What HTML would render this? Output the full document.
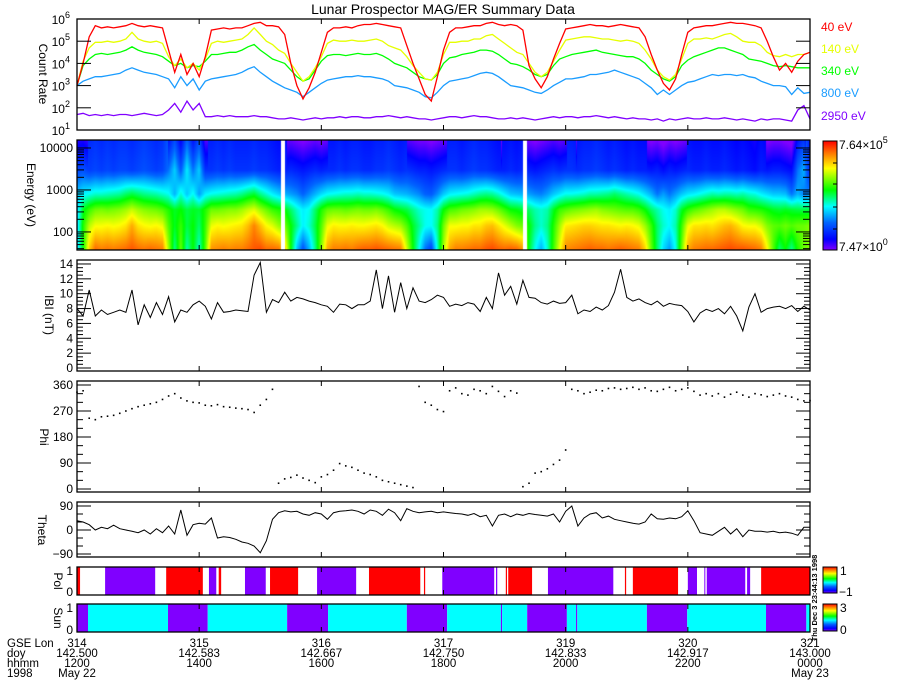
<!DOCTYPE html>
<html><head><meta charset="utf-8"><style>
html,body{margin:0;padding:0;background:#fff;}
#wrap{position:relative;width:900px;height:700px;overflow:hidden;background:#fff;font-family:"Liberation Sans",sans-serif;}
#spec{position:absolute;left:77px;top:140px;}
#chart{position:absolute;left:0;top:0;}
</style></head><body>
<div id="wrap">
<canvas id="spec" width="733" height="110"></canvas>
<svg id="chart" width="900" height="700" xmlns="http://www.w3.org/2000/svg"></svg>
</div>
<script>
// ---- data ----
const tStart = 12.0, tStep = 0.1;
const channelLabels = ["40 eV","140 eV","340 eV","800 eV","2950 eV"];
const channelEnergies = [40,140,340,800,2950];
const red40 = [3.0,4.0,5.2,5.7,5.6,5.65,5.6,5.65,5.7,5.8,
5.7,5.65,5.7,5.65,5.6,4.6,3.6,4.4,3.5,4.0,
3.4,4.3,5.5,5.55,5.6,5.55,5.6,5.6,5.7,5.8,
5.85,5.7,5.7,5.65,5.3,4.0,3.0,2.4,2.9,3.6,
4.5,5.4,5.6,5.6,5.65,5.6,5.7,5.75,5.75,5.8,
5.75,5.7,5.65,5.6,4.8,4.0,3.3,2.6,2.3,3.4,
4.6,5.4,5.6,5.6,5.65,5.7,5.7,5.8,5.85,5.75,
5.7,5.75,5.7,5.5,3.9,3.3,2.9,3.4,4.2,4.9,
5.55,5.6,5.65,5.7,5.75,5.7,5.7,5.65,5.7,5.75,
5.7,5.65,5.6,5.2,4.4,3.7,3.1,2.8,3.3,4.4,
5.4,5.6,5.65,5.7,5.7,5.75,5.8,5.85,5.8,5.8,
5.75,5.7,5.6,5.0,4.3,3.7,4.0,3.6,4.1,4.4,
4.5];
const yel140 = [3.0,4.1,4.7,4.95,4.95,5.0,4.95,5.0,5.1,5.4,
5.1,5.0,4.95,5.0,4.9,4.3,3.9,4.2,3.8,4.0,
3.7,4.2,4.9,5.0,4.95,5.0,5.05,5.1,5.3,5.6,
5.3,5.0,4.85,4.6,4.45,4.0,3.6,3.2,3.4,3.8,
4.3,4.9,5.05,5.0,5.0,5.05,5.0,5.0,5.05,5.1,
5.0,4.8,4.7,4.6,4.3,3.9,3.6,3.3,3.25,3.6,
4.4,4.95,4.95,5.0,5.0,5.1,5.1,5.25,5.3,5.1,
4.9,4.7,4.5,4.4,4.0,3.6,3.4,3.6,4.1,4.6,
5.05,5.1,5.15,5.2,5.2,5.15,5.1,5.1,5.05,5.0,
5.05,5.0,4.9,4.6,4.2,3.7,3.4,3.25,3.5,4.2,
4.9,5.1,5.1,5.15,5.1,5.2,5.3,5.35,5.2,5.0,
4.95,4.95,4.8,4.5,4.35,4.3,4.4,4.3,4.4,4.4,
4.5];
const grn340 = [3.0,3.9,4.2,4.4,4.45,4.4,4.45,4.5,4.6,4.75,
4.6,4.5,4.45,4.4,4.3,4.1,3.9,4.0,3.8,3.9,
3.85,4.1,4.4,4.4,4.45,4.5,4.5,4.6,4.75,4.85,
4.6,4.4,4.2,4.1,4.0,3.7,3.4,3.2,3.3,3.7,
4.1,4.35,4.4,4.4,4.35,4.4,4.45,4.4,4.4,4.45,
4.35,4.2,4.0,3.9,3.8,3.6,3.4,3.3,3.25,3.5,
4.0,4.25,4.3,4.4,4.45,4.5,4.6,4.6,4.55,4.4,
4.2,4.0,3.95,3.85,3.7,3.5,3.4,3.5,3.9,4.2,
4.3,4.4,4.45,4.5,4.55,4.6,4.5,4.45,4.4,4.35,
4.3,4.3,4.2,4.0,3.7,3.5,3.3,3.2,3.4,3.9,
4.15,4.3,4.4,4.5,4.6,4.7,4.7,4.6,4.5,4.4,
4.2,4.15,4.1,4.0,3.9,3.85,3.9,3.85,3.8,3.8,
3.8];
const blu800 = [3.0,3.2,3.3,3.4,3.4,3.45,3.5,3.55,3.7,3.8,
3.7,3.6,3.55,3.5,3.4,3.3,2.9,3.4,3.0,3.3,
2.8,3.2,3.3,3.35,3.4,3.45,3.5,3.6,3.75,3.85,
3.6,3.4,3.2,3.05,2.9,2.8,2.7,2.5,2.7,2.9,
3.1,3.25,3.3,3.35,3.4,3.4,3.45,3.4,3.4,3.35,
3.3,3.2,3.0,2.95,2.9,2.8,2.7,2.5,2.45,2.7,
3.0,3.2,3.25,3.3,3.35,3.45,3.55,3.6,3.55,3.4,
3.2,3.0,2.95,2.9,2.8,2.7,2.65,2.8,3.0,3.15,
3.3,3.3,3.35,3.4,3.5,3.5,3.55,3.6,3.7,3.6,
3.5,3.4,3.3,3.1,2.9,2.6,2.8,2.6,2.8,3.0,
3.15,3.2,3.3,3.4,3.5,3.45,3.5,3.5,3.45,3.5,
3.4,3.35,3.2,3.1,3.0,3.0,2.95,2.6,2.9,2.65,
2.7];
const pur2950 = [1.7,1.75,1.65,1.7,1.65,1.7,1.65,1.7,1.7,1.65,
1.7,1.75,1.7,1.65,1.7,1.9,2.2,1.8,2.3,1.9,
2.2,1.6,1.6,1.65,1.6,1.65,1.6,1.6,1.6,1.65,
1.6,1.6,1.55,1.5,1.5,1.55,1.5,1.45,1.5,1.55,
1.5,1.55,1.55,1.6,1.55,1.6,1.6,1.55,1.55,1.6,
1.6,1.65,1.6,1.55,1.6,1.55,1.5,1.5,1.45,1.5,
1.55,1.6,1.6,1.55,1.6,1.65,1.6,1.6,1.55,1.5,
1.5,1.55,1.5,1.55,1.5,1.45,1.5,1.55,1.6,1.55,
1.6,1.6,1.55,1.6,1.6,1.65,1.6,1.55,1.6,1.55,
1.5,1.55,1.5,1.5,1.45,1.5,1.4,1.5,1.45,1.5,
1.55,1.5,1.5,1.55,1.5,1.5,1.55,1.5,1.45,1.5,
1.45,1.4,1.5,1.45,1.5,1.5,1.45,1.4,1.9,2.1,
1.5];
const bMag = [8,7,10.5,7,7.8,7.2,7.5,7.8,7.5,10.5,
5.8,8.5,6.8,8.8,7.2,9.6,6.2,7.8,7.5,8.5,
9.0,8.3,6.6,8.8,7.5,7.6,7.8,7.7,7.6,12.5,
14.2,7.5,9.2,8.8,10.2,9.0,9.5,9.3,9.0,8.8,
8.5,8.3,7.5,8.6,8.5,8.0,8.5,8.5,9.0,13.2,
8.0,12.4,7.5,11.5,8.0,10.8,9.0,8.8,9.2,9.8,
9.5,8.3,8.6,8.4,8.8,8.6,7.6,9.5,8.0,12.8,
9.8,11.0,8.6,11.8,9.5,9.4,8.8,8.6,9.0,8.7,
8.8,9.8,7.3,7.8,7.6,8.2,7.8,8.4,10.2,13.3,
9.5,9.0,9.3,8.8,8.5,9.0,8.3,8.7,8.5,8.4,
7.6,6.2,7.4,7.9,7.6,8.0,7.3,8.3,7.0,5.0,
8.2,10.0,7.5,8.0,8.2,8.3,8.0,8.4,7.6,8.3,
7.8];
const phiVals = [335,340,245,240,250,252,255,262,270,278,
285,290,295,300,310,322,330,315,305,300,
298,290,288,292,285,283,280,278,275,265,
290,310,345,20,35,40,48,38,30,22,
42,50,65,88,80,75,65,55,50,42,
30,25,20,15,10,5,355,300,290,275,
268,340,350,330,325,345,340,330,355,338,
320,340,332,8,20,55,60,70,85,100,
135,345,340,330,335,342,340,348,350,345,
348,352,345,350,340,338,345,352,340,345,
350,338,325,330,322,330,318,328,335,325,
318,330,326,320,325,330,322,318,310,305,
306];
const thetaVals = [35,30,20,0,10,5,18,5,0,-5,
-10,0,-15,5,-10,15,-15,75,-20,20,
25,22,45,-30,-25,-28,-35,-45,-50,-60,
-85,-40,40,65,72,68,70,60,55,65,
60,40,65,70,72,75,70,60,75,70,
55,78,65,35,80,70,65,68,70,65,
68,65,62,60,55,62,50,55,15,55,
60,50,60,55,62,58,55,52,60,30,
70,90,15,45,60,65,45,52,40,35,
30,25,22,30,60,42,40,45,42,50,
72,35,-10,-15,-20,-5,10,-15,5,-25,
0,-5,-5,-8,-5,-10,-8,-12,-20,10,
10];
const polStart = [12.00,12.46,13.46,14.16,14.32,14.75,15.16,15.93,16.78,17.68,17.98,18.86,19.02,19.06,19.71,20.97,21.10,22.00,22.27,22.31,22.97,23.20];
const polEnd   = [12.05,13.28,14.06,14.28,14.36,15.09,15.62,16.57,17.62,17.70,18.83,18.88,19.04,19.45,20.78,20.99,21.84,22.15,22.28,22.94,23.02,24.00];
const polVal   = [1,-1,1,-1,1,-1,1,-1,1,1,-1,-1,1,1,-1,1,1,-1,-1,-1,-1,1];
const sunStart = [12.00,12.18,13.49,14.14,15.44,16.11,17.40,18.06,18.94,18.96,19.37,20.02,20.17,20.19,21.33,21.99,23.28,23.94];
const sunEnd   = [12.18,13.49,14.14,15.44,16.11,17.40,18.06,18.94,18.96,19.37,20.02,20.17,20.19,21.33,21.99,23.28,23.94,24.00];
const sunVal   = [0,1,0,1,0,1,0,1,0,1,0,1,0,1,0,1,0,1];
const gapHours = [15.37,19.33];
const tickHours = [12,14,16,18,20,22,24];
const tickLon = ["314","315","316","317","319","320","321"];
const tickDoy = ["142.500","142.583","142.667","142.750","142.833","142.917","143.000"];
const tickHhmm = ["1200","1400","1600","1800","2000","2200","0000"];
const tickDate = ["May 22","","","","","","May 23"];

// ---- scales ----
const X0=77, X1=810;
function xs(h){return X0+(h-tStart)*(X1-X0)/12;}
function yCount(l){return 130-(l-1)*(111/5);}
function yE(le){return 250-(le-1.57)*(110/2.62);}
function yB(v){return 368-v*7.43;}
function yPhi(v){return 489-v*104/360;}
function yTh(v){return 530-v*24/90;}
function hourAt(i){return tStart+i*tStep;}

const svg=document.getElementById('chart');
const NS='http://www.w3.org/2000/svg';
function mk(tag,attrs,parent){const e=document.createElementNS(NS,tag);for(const k in attrs)e.setAttribute(k,attrs[k]);(parent||svg).appendChild(e);return e;}
function txt(x,y,s,anchor,size,fill,parent){const e=mk('text',{x:x,y:y,'text-anchor':anchor||'start','font-size':size||12,fill:fill||'#000','font-family':'"Liberation Sans",sans-serif'},parent);e.textContent=s;return e;}

const stops=[[0,[128,0,255]],[0.1,[0,0,255]],[0.25,[0,100,255]],[0.4,[0,255,255]],[0.55,[0,255,0]],[0.75,[255,255,0]],[0.88,[255,128,0]],[1,[255,0,0]]];
function cmap(v){v=Math.max(0,Math.min(1,v));for(let i=1;i<stops.length;i++){if(v<=stops[i][0]){const a=stops[i-1],b=stops[i];const f=(v-a[0])/(b[0]-a[0]);return [0,1,2].map(k=>Math.round(a[1][k]+f*(b[1][k]-a[1][k])));}}return stops[stops.length-1][1];}

const title=txt(443,14,'Lunar Prospector MAG/ER Summary Data','middle',14);



// ---- spectrogram canvas ----
(function(){
 const cv=document.getElementById('spec');const ctx=cv.getContext('2d');
 const img=ctx.createImageData(733,110);
 const chans=[red40,yel140,grn340,blu800,pur2950];
 const chLog=channelEnergies.map(e=>Math.log10(e));
 for(let px=0;px<733;px++){
  const h=tStart+(px+0.5)*12/733;
  const f=(h-tStart)/tStep;let i0=Math.floor(f);if(i0>=red40.length-1)i0=red40.length-2;const fr=f-i0;
  const vals=chans.map(c=>c[i0]+(c[i0+1]-c[i0])*fr);
  const cv5=vals.map((l,k)=>k<4?(l-1.3)/4.9:0.16+(l-1.55)*0.3);
  let shadow=false;for(let s=0;s<sunStart.length;s++){if(h>=sunStart[s]&&h<sunEnd[s]&&sunVal[s]===0)shadow=true;}
  let gap=false;for(const g of gapHours){if(Math.abs(h-g)<0.03)gap=true;}
  for(let py=0;py<110;py++){
   const le=4.19-(py+0.5)*2.62/110;let v;
   if(le<=chLog[0])v=cv5[0];
   else if(le>=chLog[4])v=cv5[4]-(shadow?0.14:0.03)*(le-chLog[4])/0.72;
   else{for(let k=0;k<4;k++){if(le<=chLog[k+1]){const q=(le-chLog[k])/(chLog[k+1]-chLog[k]);v=cv5[k]+q*(cv5[k+1]-cv5[k]);break;}}}
   const c=gap?[255,255,255]:cmap(v);
   const o=(py*733+px)*4;img.data[o]=c[0];img.data[o+1]=c[1];img.data[o+2]=c[2];img.data[o+3]=255;
  }
 }
 ctx.putImageData(img,0,0);
})();

const panels=[['count-rate-panel',19,130],['spectrogram-panel',140,250],['bmag-panel',260,371],['phi-panel',381,492],['theta-panel',502,557],['pol-panel',567,595],['sun-panel',604,632]];

const series=[[pur2950,'#8000ff','line-2950ev'],[blu800,'#1a9cff','line-800ev'],[grn340,'#00ff00','line-340ev'],[yel140,'#e6ff00','line-140ev'],[red40,'#ff0000','line-40ev']];
series.forEach(s=>{
 const pts=s[0].map((v,i)=>xs(hourAt(i)).toFixed(1)+','+yCount(v).toFixed(1)).join(' ');
 const pl=mk('polyline',{points:pts,fill:'none',stroke:s[1],'stroke-width':1.3});
 
 
});
const chColors=['#ff0000','#e6ff00','#00ff00','#1a9cff','#8000ff'];
const chY=[31,53,75,97,120];
channelLabels.forEach((l,i)=>{const t=txt(821,chY[i],l,'start',12,chColors[i]);
 
 });
for(let d=1;d<=6;d++){
 const t=txt(70,yCount(d)+5,'10','end',12);
 const sp=mk('tspan',{dy:-6,'font-size':9},t);sp.textContent=String(d);
 
 
 if(d>1&&d<6){mk('line',{x1:X0,x2:X0+14,y1:yCount(d),y2:yCount(d),stroke:'#000','stroke-width':1});mk('line',{x1:X1-14,x2:X1,y1:yCount(d),y2:yCount(d),stroke:'#000','stroke-width':1});}
}
function ytitle(x,y,s,name){const t=txt(x,y,s,'middle',12);t.setAttribute('transform','rotate(90 '+x+' '+y+')');t.setAttribute('dominant-baseline','middle');
 
 }
ytitle(42,74,'Count Rate','count-rate-axis-title');

[[2,'100'],[3,'1000'],[4,'10000']].forEach(a=>{const t=txt(73,yE(a[0])+4,a[1],'end',12);
 
 });
for(let d=1;d<=4;d++){for(let m=1;m<=9;m++){const le=d+Math.log10(m);if(le<1.57||le>4.19)continue;const L=m===1?14:7;const y=yE(le);
 mk('line',{x1:X0,x2:X0+L,y1:y,y2:y,stroke:'#000','stroke-width':1});mk('line',{x1:X1-L,x2:X1,y1:y,y2:y,stroke:'#000','stroke-width':1});}}
ytitle(30,195,'Energy  (eV)','energy-axis-title');
(function(){const g=mk('defs',{});const lg=mk('linearGradient',{id:'cb',x1:0,y1:1,x2:0,y2:0},g);
 for(let i=0;i<=20;i++){const c=cmap(i/20);mk('stop',{offset:(i/20),'stop-color':'rgb('+c.join(',')+')'},lg);}
 const r=mk('rect',{x:823,y:141,width:14,height:109,fill:'url(#cb)',stroke:'#000','stroke-width':1});
 
 
 [163,184,207,229].forEach(y=>mk('line',{x1:833,x2:837,y1:y,y2:y,stroke:'#000'}));
 const a=txt(839,149,'7.64×10','start',12);const s1=mk('tspan',{dy:-6,'font-size':9},a);s1.textContent='5';
 
 
 const b=txt(839,251,'7.47×10','start',12);const s2=mk('tspan',{dy:-6,'font-size':9},b);s2.textContent='0';
 
 
 const lp=mk('linearGradient',{id:'cb2',x1:0,y1:1,x2:0,y2:0},g);
 for(let i=0;i<=20;i++){const c=cmap(i/20);mk('stop',{offset:(i/20),'stop-color':'rgb('+c.join(',')+')'},lp);}
 const r2=mk('rect',{x:823,y:567,width:14,height:26,fill:'url(#cb2)',stroke:'#000','stroke-width':1});
 
 
 const r3=mk('rect',{x:823,y:604,width:14,height:27,fill:'url(#cb2)',stroke:'#000','stroke-width':1});
 
 
 txt(840,575,'1','start',12);txt(839,596,'−1','start',12);txt(840,612,'3','start',12);txt(840,634,'0','start',12);
})();

const bl=mk('polyline',{points:bMag.map((v,i)=>xs(hourAt(i)).toFixed(1)+','+yB(v).toFixed(1)).join(' '),fill:'none',stroke:'#000','stroke-width':1});


for(let v=0;v<=14;v+=0.5){const L=(v%2===0)?14:6;const y=yB(v);if(y<261)continue;
 mk('line',{x1:X0,x2:X0+L,y1:y,y2:y,stroke:'#000'});mk('line',{x1:X1-L,x2:X1,y1:y,y2:y,stroke:'#000'});
 if(v%2===0){const t=txt(73,y+4,String(v),'end',12);
 }}
ytitle(48,315,'IBI  (nT)','bmag-axis-title');

phiVals.forEach((v,i)=>{const r=mk('rect',{x:xs(hourAt(i))-0.8,y:yPhi(v)-0.8,width:1.6,height:1.6,fill:'#000'});
 
 });
for(let v=0;v<=360;v+=30){const L=(v%90===0)?14:6;const y=yPhi(v);
 mk('line',{x1:X0,x2:X0+L,y1:y,y2:y,stroke:'#000'});mk('line',{x1:X1-L,x2:X1,y1:y,y2:y,stroke:'#000'});
 if(v%90===0){const t=txt(73,y+4,String(v),'end',12);
 }}
ytitle(43,437,'Phi','phi-axis-title');

const tl=mk('polyline',{points:thetaVals.map((v,i)=>xs(hourAt(i)).toFixed(1)+','+yTh(v).toFixed(1)).join(' '),fill:'none',stroke:'#000','stroke-width':1});


for(let v=-90;v<=90;v+=30){const L=(v%90===0)?14:6;const y=yTh(v);
 mk('line',{x1:X0,x2:X0+L,y1:y,y2:y,stroke:'#000'});mk('line',{x1:X1-L,x2:X1,y1:y,y2:y,stroke:'#000'});
 if(v%90===0){const t=txt(73,y+4,v<0?'−90':String(v),'end',12);
 }}
ytitle(41,530,'Theta','theta-axis-title');

polStart.forEach((s,i)=>{const r=mk('rect',{x:xs(s),y:567,width:Math.max(1,xs(polEnd[i])-xs(s)),height:28,fill:polVal[i]>0?'#ff0000':'#8000ff'});
 
 });
sunStart.forEach((s,i)=>{const r=mk('rect',{x:xs(s),y:604,width:Math.max(1,xs(sunEnd[i])-xs(s)),height:28,fill:sunVal[i]>0?'#00ffff':'#8000ff'});
 
 });
txt(73,575,'1','end',12);txt(73,596,'0','end',12);txt(73,612,'1','end',12);txt(73,634,'0','end',12);
ytitle(57,581,'Pol','pol-axis-title');
ytitle(57,618,'Sun','sun-axis-title');
const stamp=txt(0,0,'Thu Dec  3 23:44:13 1998','middle',7.5);
stamp.setAttribute('transform','translate(817,598) rotate(-90)');
stamp.setAttribute('font-weight','bold');



panels.forEach(p=>{const r=mk('rect',{x:X0,y:p[1],width:X1-X0,height:p[2]-p[1],fill:'none',stroke:'#000','stroke-width':1.3});
 
 
 tickHours.forEach(h=>{const x=xs(h);mk('line',{x1:x,x2:x,y1:p[1],y2:p[1]+5,stroke:'#000'});mk('line',{x1:x,x2:x,y1:p[2]-5,y2:p[2],stroke:'#000'});});});

const rows=[['GSE Lon',647,tickLon],['doy',657,tickDoy],['hhmm',667,tickHhmm],['1998',677,tickDate]];
rows.forEach(r=>{const t=txt(7,r[1],r[0],'start',11.5);
 
 r[2].forEach((s,i)=>{if(!s)return;const q=txt(xs(tickHours[i]),r[1],s,'middle',11.5);
 
 });});
</script>
</body></html>
